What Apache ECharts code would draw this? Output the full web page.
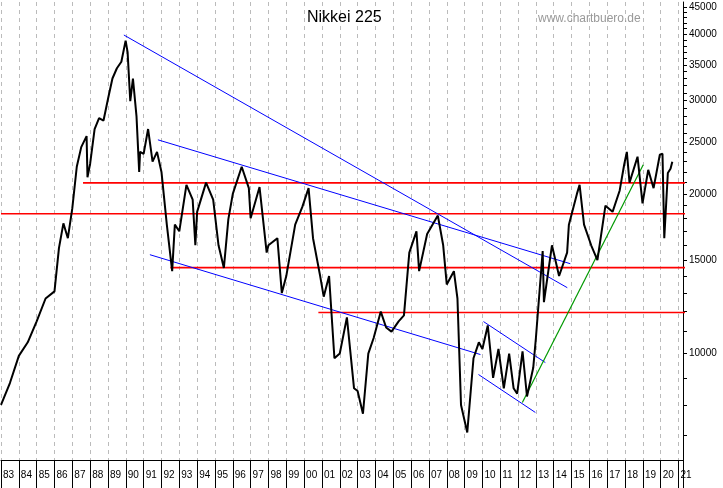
<!DOCTYPE html>
<html><head><meta charset="utf-8">
<script src="https://cdn.jsdelivr.net/npm/echarts@6/dist/echarts.min.js"></script>
<style>body{margin:0;background:#fff}#c{width:723px;height:488px}</style>
</head><body><div id="c"></div>
<script>
// Nikkei 225, year (decimal) and index level
var years = [1983.0,1983.5,1984.0,1984.5,1985.0,1985.5,1986.0,1986.25,1986.5,1986.75,1987.0,1987.25,1987.5,1987.8,1987.85,1988.0,1988.25,1988.5,1988.75,1989.0,1989.25,1989.5,1989.75,1989.99,1990.1,1990.25,1990.4,1990.6,1990.75,1990.8,1991.0,1991.25,1991.5,1991.75,1992.0,1992.3,1992.6,1992.75,1993.0,1993.4,1993.75,1993.9,1994.0,1994.5,1994.9,1995.2,1995.5,1995.75,1996.0,1996.5,1996.9,1997.0,1997.5,1997.9,1998.0,1998.5,1998.75,1999.0,1999.5,1999.9,2000.25,2000.5,2000.9,2001.1,2001.4,2001.7,2002.0,2002.4,2002.8,2003.0,2003.3,2003.6,2003.9,2004.3,2004.6,2004.9,2005.3,2005.6,2005.9,2006.3,2006.45,2006.9,2007.2,2007.5,2007.8,2008.0,2008.4,2008.6,2008.8,2009.15,2009.5,2009.8,2010.0,2010.3,2010.6,2010.9,2011.2,2011.5,2011.75,2011.95,2012.25,2012.5,2012.85,2013.0,2013.38,2013.45,2013.9,2014.3,2014.75,2014.85,2015.3,2015.45,2015.7,2016.1,2016.45,2016.9,2017.3,2017.7,2017.95,2018.1,2018.25,2018.7,2018.98,2019.3,2019.6,2019.95,2020.1,2020.2,2020.4,2020.55,2020.65];
var nikkei = [8000,8800,9900,10500,11500,12700,13100,15800,17600,16500,18800,22500,24500,25700,21500,22800,26500,27800,27500,30200,33000,34500,35500,38900,37000,29900,33000,28000,22000,24000,23800,26500,23000,24000,22000,17500,14300,17500,17000,20800,19500,16000,18500,21000,19500,16000,14500,17900,20000,22500,20500,18000,20600,15500,16000,16500,13000,14000,17500,18900,20500,16500,14000,12800,14000,9800,10000,11700,8600,8500,7700,10000,10700,12000,11200,11000,11500,11800,15500,17000,14300,16800,17500,18200,16000,13500,14300,12700,8000,7100,9800,10500,10200,11300,9000,10200,8600,10000,8600,8400,10100,8300,9400,10700,15600,12500,16000,14000,15500,17500,20000,20800,17500,16000,15000,19000,18500,20300,22700,24000,21000,23500,19200,22200,20500,23700,23800,16500,21900,22300,23000];
// trend lines: [x1, y1, x2, y2]
var blueLines = [
  [1989.89,39860,2014.76,13310],
  [1991.80,25290,2014.93,14770],
  [1991.35,15360,2009.89,9957],
  [2010.06,11490,2013.53,9617],
  [2009.78,9130,2012.97,7744]
];
var greenLines = [[2012.24,8086,2019.02,22690]];
var redLines = [[1987.6,20980,2021.5,20980],[1983,18350,2021.5,18350],[1992.5,14520,2021.5,14520],[2000.8,11950,2021.5,11950]];
var yLabels = [10000,15000,20000,25000,30000,35000,40000,45000];
var yTicks = [];
for (var v = 7000; v <= 45000; v += 1000) yTicks.push(v);

function seg(lines, color, width){
  return lines.map(function(l){
    return {type:'line', data:[[l[0],l[1]],[l[2],l[3]]], symbol:'none',
      lineStyle:{color:color,width:width}, silent:true, z:1};
  });
}

var chart = echarts.init(document.getElementById('c'));
var series = [{
  type:'line', data: years.map(function(y,i){return [y, nikkei[i]];}),
  symbol:'none', lineStyle:{color:'#000',width:2}, z:3
}].concat(seg(redLines,'#ff0000',1.6), seg(blueLines,'#0000ff',1), seg(greenLines,'#009900',1.2));

chart.setOption({
  animation:false,
  title:[{text:'Nikkei 225', left:302, top:5, textStyle:{fontFamily:'Liberation Sans',fontSize:16,fontWeight:'normal',color:'#000'}},
         {text:'www.chartbuero.de', left:533, top:8, textStyle:{fontFamily:'Liberation Sans',fontSize:12,fontWeight:'normal',color:'#999'}}],
  grid:{left:0, right:40, top:2, bottom:28},
  xAxis:{type:'value', min:1983, max:2021.25, interval:1,
    axisLine:{lineStyle:{color:'#000'}},
    axisTick:{length:28, lineStyle:{color:'#000'}},
    axisLabel:{align:'left', margin:10, padding:[0,0,0,2], fontFamily:'Liberation Sans', fontSize:10, color:'#000',
      formatter:function(v){ return v > 2021 ? '' : String(v).slice(2); }},
    splitLine:{show:true, lineStyle:{color:'#bbb', type:[4,4]}}},
  yAxis:{type:'log', logBase:10, min:6300, max:46000, position:'right',
    axisLine:{show:true, lineStyle:{color:'#000'}},
    axisTick:{show:true, length:4, customValues:yTicks, lineStyle:{color:'#000'}},
    axisLabel:{customValues:yLabels, fontFamily:'Liberation Sans', fontSize:10, color:'#000', margin:6,
      formatter:function(v){ return String(Math.round(v)); }},
    splitLine:{show:false}},
  series: series
});
</script></body></html>
